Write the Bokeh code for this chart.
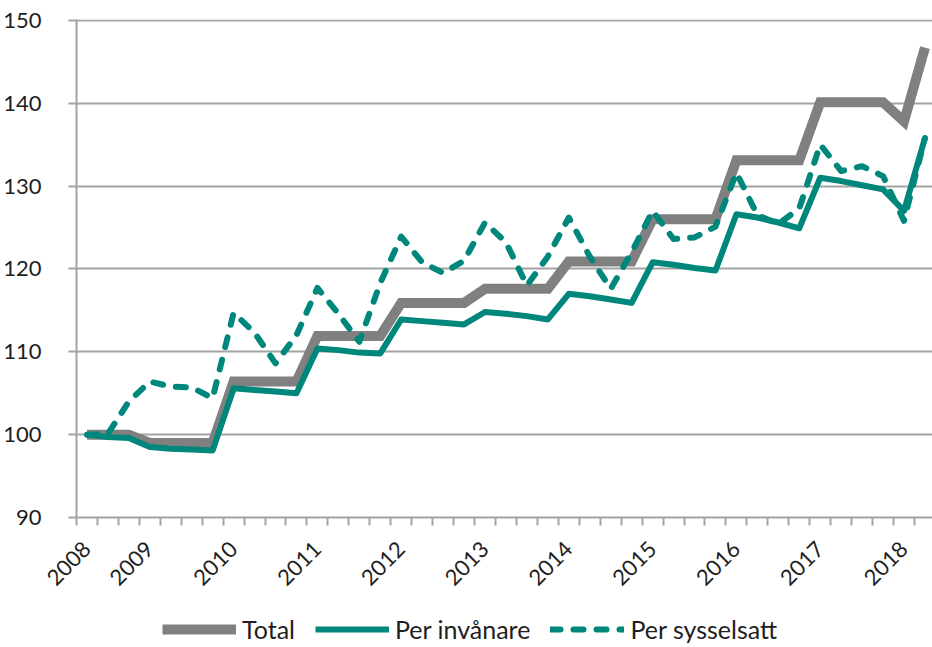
import math
from bokeh.plotting import figure
from bokeh.layouts import column
from bokeh.models import FixedTicker, Legend, LegendItem, ColumnDataSource, Range1d
from bokeh.embed import file_html
from bokeh.resources import INLINE

# ---- data (quarterly, index 2008 = 100) ----
year_labels = ["2008", "2009", "2010", "2011", "2012", "2013", "2014", "2015", "2016", "2017", "2018"]
year_label_index = [0, 3, 7, 11, 15, 19, 23, 27, 31, 35, 39]

total = [100.0, 100.0, 100.0,
         99.0, 99.0, 99.0, 99.0,
         106.4, 106.4, 106.4, 106.4,
         111.9, 111.9, 111.9, 111.9,
         115.9, 115.9, 115.9, 115.9,
         117.6, 117.6, 117.6, 117.6,
         120.9, 120.9, 120.9, 120.9,
         126.0, 126.0, 126.0, 126.0,
         133.1, 133.1, 133.1, 133.1,
         140.1, 140.1, 140.1, 140.1,
         137.8, 146.7]

per_invanare = [100.0, 99.7, 99.6,
                98.5, 98.3, 98.2, 98.1,
                105.6, 105.4, 105.2, 105.0,
                110.4, 110.2, 109.9, 109.8,
                113.9, 113.7, 113.5, 113.3,
                114.8, 114.6, 114.3, 113.9,
                117.0, 116.7, 116.3, 115.9,
                120.8, 120.5, 120.1, 119.8,
                126.6, 126.2, 125.6, 124.9,
                131.0, 130.6, 130.1, 129.6,
                127.0, 135.8]

per_sysselsatt = [100.0, 100.1, 104.0,
                  106.4, 105.8, 105.7, 104.4,
                  114.7, 112.3, 108.6, 112.0,
                  117.7, 114.6, 111.2, 118.3,
                  123.9, 120.8, 119.5, 121.0,
                  125.6, 123.2, 118.0, 121.5,
                  126.2, 121.5, 117.6, 122.0,
                  127.0, 123.6, 123.8, 125.1,
                  131.6, 126.5, 125.4, 127.3,
                  135.0, 131.8, 132.4, 131.2,
                  125.8, 135.8]

series_names = ["Total", "Per invånare", "Per sysselsatt"]
y_ticks = [90, 100, 110, 120, 130, 140, 150]

n = len(total)
idx = list(range(n))
src = ColumnDataSource(dict(x=idx, total=total, inv=per_invanare, sys=per_sysselsatt))

GRAY = "#808080"
TEAL = "#00877b"
GRID = "#a3a3a3"
TXT = "#1e1e1e"
FONT = "Lato"

TOTAL_STYLE = dict(line_color=GRAY, line_width=10, line_join="miter")
INV_STYLE = dict(line_color=TEAL, line_width=6, line_join="round")
SYS_STYLE = dict(line_color=TEAL, line_width=6, line_dash="10 13", line_cap="round", line_join="round")

p = figure(width=932, height=606, output_backend="svg", toolbar_location=None,
           x_range=Range1d(-0.5, 40.36), y_range=Range1d(90, 150.1),
           min_border_top=19, min_border_left=76, min_border_right=0, min_border_bottom=89)
p.outline_line_color = None
p.background_fill_color = "white"
p.border_fill_color = "white"

p.line("x", "total", source=src, **TOTAL_STYLE)
p.line("x", "inv", source=src, **INV_STYLE)
p.line("x", "sys", source=src, **SYS_STYLE)

# x axis
xa = p.xaxis[0]
xa.ticker = FixedTicker(ticks=year_label_index, minor_ticks=[i - 0.5 for i in range(n + 1)])
xa.major_label_overrides = {i: l for i, l in zip(year_label_index, year_labels)}
xa.major_tick_out = 0
xa.major_tick_in = 0
xa.minor_tick_out = 8
xa.minor_tick_in = 0
xa.minor_tick_line_color = GRID
xa.minor_tick_line_width = 2
xa.axis_line_color = GRID
xa.axis_line_width = 2
xa.major_label_orientation = math.pi / 4
xa.major_label_text_font = FONT
xa.major_label_text_font_size = "22px"
xa.major_label_text_color = TXT
xa.major_label_standoff = 20

# y axis
ya = p.yaxis[0]
ya.ticker = FixedTicker(ticks=y_ticks)
ya.major_tick_out = 8
ya.major_tick_in = 0
ya.minor_tick_out = 0
ya.minor_tick_in = 0
ya.major_tick_line_color = GRID
ya.major_tick_line_width = 2
ya.axis_line_color = GRID
ya.axis_line_width = 2
ya.major_label_text_font = FONT
ya.major_label_text_font_size = "22px"
ya.major_label_text_color = TXT
ya.major_label_standoff = 27

p.xgrid.visible = False
p.ygrid.ticker = FixedTicker(ticks=y_ticks)
p.ygrid.grid_line_color = GRID
p.ygrid.grid_line_width = 2

# legend strip below the chart
lg = figure(width=932, height=41, output_backend="svg", toolbar_location=None,
            x_range=Range1d(0, 1), y_range=Range1d(0, 1),
            x_axis_location=None, y_axis_location=None,
            min_border=0, min_border_left=0, min_border_right=0, min_border_top=0, min_border_bottom=0)
lg.grid.visible = False
lg.outline_line_color = None
hidden = ColumnDataSource(dict(x=[-5.0, -4.0], y=[-5.0, -5.0]))  # outside the visible range
l1 = lg.line("x", "y", source=hidden, **TOTAL_STYLE)
l2 = lg.line("x", "y", source=hidden, **INV_STYLE)
l3 = lg.line("x", "y", source=hidden, **SYS_STYLE)
legend = Legend(items=[LegendItem(label=series_names[0], renderers=[l1]),
                       LegendItem(label=series_names[1], renderers=[l2]),
                       LegendItem(label=series_names[2], renderers=[l3])],
                orientation="horizontal", location=(86, 3),
                border_line_color=None, background_fill_alpha=0,
                label_text_font=FONT, label_text_font_size="25px", label_text_color=TXT,
                glyph_width=74, glyph_height=26, spacing=20, label_standoff=6,
                padding=0, margin=0)
lg.add_layout(legend, "center")

layout = column(p, lg, spacing=0)
open("out.html", "w").write(file_html(layout, INLINE))
